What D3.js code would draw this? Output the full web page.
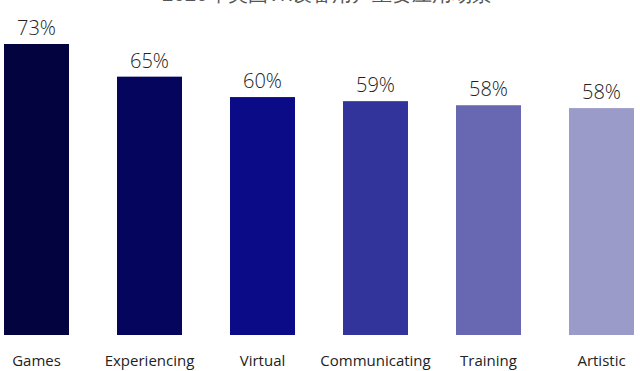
<!DOCTYPE html>
<html lang="en">
<head>
    <meta charset="UTF-8">
    <title>VR use cases</title>
    <script src="https://cdnjs.cloudflare.com/ajax/libs/d3/7.8.5/d3.min.js"></script>
    <style>
        body { margin: 0; background: #fff; }
        text { font-family: "Open Sans", sans-serif; }
    </style>
</head>
<body>
    <script>
        const title = '2020年美国VR设备用户主要应用场景';
        const categories = ['Games', 'Experiencing', 'Virtual', 'Communicating', 'Training', 'Artistic'];
        const secondLine = ['', 'Events', 'Travel', 'With Others', 'Education', 'Expression'];
        const values = [73, 65, 60, 59, 58, 57.3];
        const labels = ['73%', '65%', '60%', '59%', '58%', '58%'];
        const colors = ['#03033f', '#05055e', '#0b0b88', '#33339c', '#6767b2', '#9b9bca'];

        const width = 640, height = 371;
        const baseline = 335;

        const x = d3.scaleBand().domain(categories).range([-20, 658])
            .paddingInner(0.425).paddingOuter(0.2125);
        const y = d3.scaleLinear().domain([0, 73]).range([342, 44]);

        const svg = d3.select('body').append('svg').attr('width', width).attr('height', height);

        // title, cut off at the top of the picture
        svg.append('text').attr('x', 327).attr('y', 1).attr('text-anchor', 'middle')
            .attr('font-family', '"Noto Sans CJK SC", sans-serif').attr('font-size', 20)
            .attr('fill', '#555').text(title);

        const rows = categories.map((c, i) => ({c, v: values[i], label: labels[i], color: colors[i], sub: secondLine[i]}));

        svg.selectAll('rect.bar').data(rows).enter().append('rect').attr('class', 'bar')
            .attr('x', d => x(d.c)).attr('width', x.bandwidth())
            .attr('y', d => y(d.v)).attr('height', d => baseline - y(d.v))
            .attr('fill', d => d.color);

        svg.selectAll('text.val').data(rows).enter().append('text').attr('class', 'val')
            .attr('x', d => x(d.c) + x.bandwidth() / 2).attr('y', d => y(d.v) - 9)
            .attr('text-anchor', 'middle').attr('font-size', 20).attr('font-weight', 300)
            .attr('fill', '#222').text(d => d.label);

        svg.selectAll('text.cat').data(rows).enter().append('text').attr('class', 'cat')
            .attr('x', d => x(d.c) + x.bandwidth() / 2).attr('y', 366)
            .attr('text-anchor', 'middle').attr('font-size', 15)
            .attr('fill', '#222').text(d => d.c);

        // second line of each label, cut off at the bottom
        svg.selectAll('text.cat2').data(rows).enter().append('text').attr('class', 'cat2')
            .attr('x', d => x(d.c) + x.bandwidth() / 2).attr('y', 384)
            .attr('text-anchor', 'middle').attr('font-size', 15)
            .attr('fill', '#222').text(d => d.sub);
    </script>
</body>
</html>
